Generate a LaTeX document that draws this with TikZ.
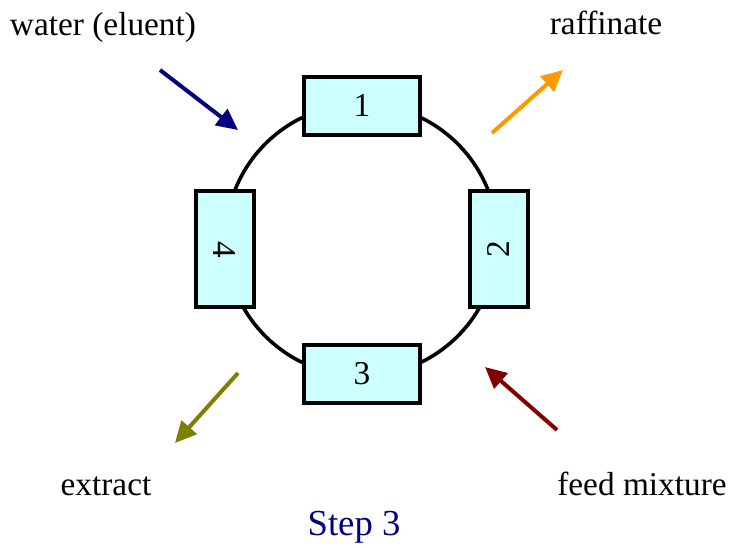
\documentclass[tikz,border=0pt]{standalone}
\usepackage{fontspec}
\setmainfont{Liberation Serif}
\usepackage{tikz}
\usetikzlibrary{positioning, arrows.meta, calc}
\definecolor{colfill}{HTML}{CCFFFF}
\definecolor{eluentblue}{HTML}{000080}
\definecolor{raffinorange}{HTML}{FF9900}
\definecolor{extractolive}{HTML}{808000}
\definecolor{feedred}{HTML}{800000}

\begin{document}
\begin{tikzpicture}[x=0.75pt, y=0.75pt,
  column/.style={draw, fill=colfill, line width=3pt, minimum width=87pt,
                 minimum height=43.5pt, inner sep=0pt, font=\fontsize{25}{30}\selectfont},
  streamtext/.style={anchor=base, inner sep=0pt, font=\fontsize{25}{30}\selectfont},
  flow/.style={line width=3pt, -{Triangle[length=16pt, width=15pt]}}]
  \useasboundingbox (0,0) rectangle (731,-548);

  % the ring of four columns
  \coordinate (ring) at (361.5,-240);
  \draw[line width=2.7pt] (ring) circle[radius=102pt];
  \node[column] (c1) at (362,-106) {1};
  \node[column, rotate=90] (c2) at (498.5,-249.5) {2};
  \node[column] (c3) at (362,-374) {3};
  \node[column, rotate=-90] (c4) at (224.5,-249.5) {4};

  % inlets and outlets
  \node[streamtext] (water) at (103,-36) {water (eluent)};
  \node[streamtext] (raff) at (606,-35) {raffinate};
  \node[streamtext] (extr) at (106,-495) {extract};
  \node[streamtext] (feed) at (642,-495) {feed mixture};
  \node[streamtext, text=eluentblue, font=\fontsize{27.5}{33}\selectfont] (step) at (354,-535) {Step 3};

  \coordinate (w0) at (160,-70);  \coordinate (w1) at (238,-130);
  \coordinate (r0) at (492,-133); \coordinate (r1) at (563,-70);
  \coordinate (e0) at (238,-373); \coordinate (e1) at (175,-443);
  \coordinate (f0) at (557,-430); \coordinate (f1) at (485,-367);
  \draw[flow, eluentblue] (w0) -- (w1);
  \draw[flow, raffinorange] (r0) -- (r1);
  \draw[flow, extractolive] (e0) -- (e1);
  \draw[flow, feedred] (f0) -- (f1);
\end{tikzpicture}
\end{document}
